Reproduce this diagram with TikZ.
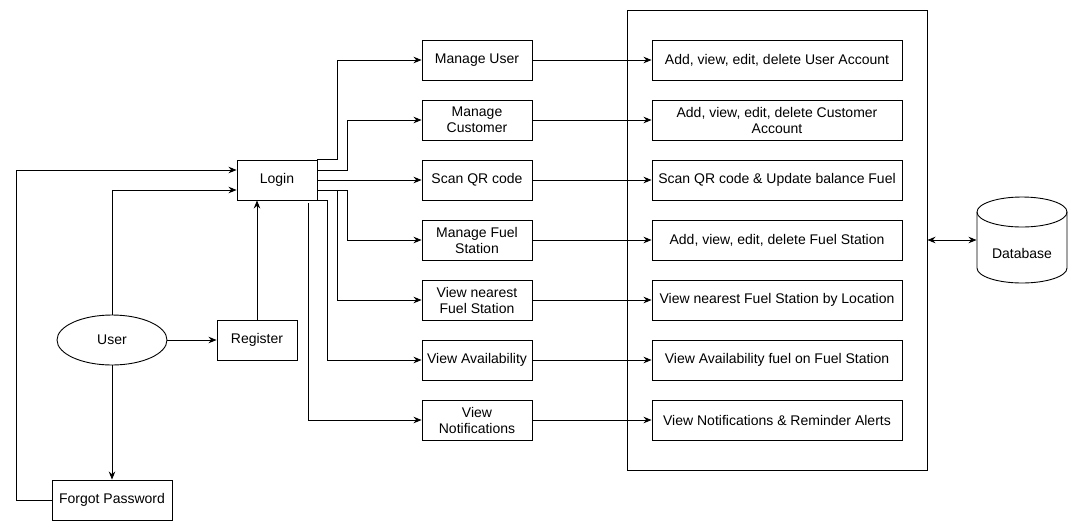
\documentclass[tikz,border=0pt]{standalone}
\usepackage{fontspec}
\setmainfont{Liberation Sans}
\usetikzlibrary{arrows.meta,shapes.geometric}
\begin{document}
\begin{tikzpicture}[x=1pt,y=-1pt,line width=0.9pt,
  txt/.style={font=\fontsize{14}{16}\selectfont},
  box/.style={draw,rectangle,txt,minimum width=110pt,minimum height=40pt,align=center,inner sep=1pt},
  wbox/.style={box,minimum width=250pt},
  arr/.style={-{Stealth[length=8pt,width=6.5pt]}},
  darr/.style={{Stealth[length=8pt,width=6.5pt]}-{Stealth[length=8pt,width=6.5pt]}}]
\useasboundingbox (0,0) rectangle (1078,531);
\fill[white] (0,0) rectangle (1078,531);
% left part
\node[box,minimum width=80pt] (login) at (277,180) {Login};
\node[draw,ellipse,txt,minimum width=110pt,minimum height=50pt,inner sep=0pt] (user) at (112,340) {User};
\node[box,minimum width=80pt] (reg) at (257,340) {Register};
\node[box,minimum width=120pt] (fp) at (112,500) {Forgot Password};
% middle column
\node[box] (mu) at (477,60) {Manage User};
\node[box] (mc) at (477,120) {Manage\\Customer};
\node[box] (qr) at (477,180) {Scan QR code};
\node[box] (mf) at (477,240) {Manage Fuel\\Station};
\node[box] (vn) at (477,300) {View nearest\\Fuel Station};
\node[box] (va) at (477,360) {View Availability};
\node[box] (vno) at (477,420) {View\\Notifications};
% container
\node[draw,rectangle,minimum width=300pt,minimum height=460pt] (big) at (777,240) {};
% right column
\node[wbox] (r1) at (777,60) {Add, view, edit, delete User Account};
\node[wbox] (r2) at (777,120) {Add, view, edit, delete Customer\\Account};
\node[wbox] (r3) at (777,180) {Scan QR code \& Update balance Fuel};
\node[wbox] (r4) at (777,240) {Add, view, edit, delete Fuel Station};
\node[wbox] (r5) at (777,300) {View nearest Fuel Station by Location};
\node[wbox] (r6) at (777,360) {View Availability fuel on Fuel Station};
\node[wbox] (r7) at (777,420) {View Notifications \& Reminder Alerts};
% database
\node[rectangle,minimum width=90pt,minimum height=86pt,inner sep=0pt,
      label={[txt,yshift=-13pt]center:Database}] (db) at (1022,240) {};
\draw (977,212) -- (977,268) arc[start angle=180,end angle=360,x radius=45pt,y radius=15pt] -- (1067,212);
\draw (1022,212) ellipse[x radius=45pt,y radius=15pt];
% connectors left
\draw[arr] (user.north) |- ([yshift=-10pt]login.west);
\draw[arr] (fp.west) -- ++(-35,0) |- ([yshift=10pt]login.west);
\draw[arr] (user.south) -- (fp.north);
\draw[arr] (user.east) -- (reg.west);
\draw[arr] (reg.north) -- (reg.north |- login.south);
% login to middle
\draw[arr] (login.north east) -- ++(20,0) |- (mu.west);
\draw[arr] ([yshift=10pt]login.east) -- ++(30,0) |- (mc.west);
\draw[arr] (login.east) -- (qr.west);
\draw[arr] ([yshift=-10pt]login.east) -- ++(30,0) |- (mf.west);
\draw[arr] ([yshift=-10pt]login.east) -- ++(20,0) |- (vn.west);
\draw[arr] (login.south east) -- ++(10,0) |- (va.west);
\draw[arr] ([xshift=-9pt,yshift=-3pt]login.south east) |- (vno.west);
% middle to right
\draw[arr] (mu.east) -- (r1.west);
\draw[arr] (mc.east) -- (r2.west);
\draw[arr] (qr.east) -- (r3.west);
\draw[arr] (mf.east) -- (r4.west);
\draw[arr] (vn.east) -- (r5.west);
\draw[arr] (va.east) -- (r6.west);
\draw[arr] (vno.east) -- (r7.west);
% container to database
\draw[darr] (big.east) -- (db.west);
\end{tikzpicture}
\end{document}
